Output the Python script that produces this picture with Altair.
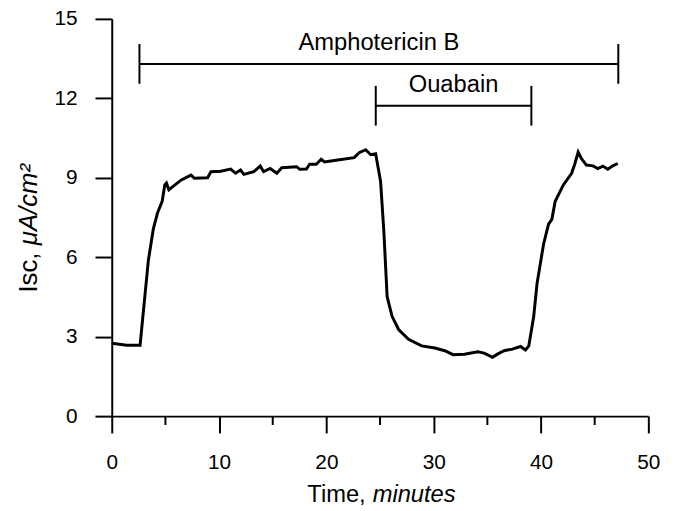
import altair as alt
import pandas as pd

# Trace
time_min = [0.0, 1.4, 2.64, 3.41, 3.87, 4.27, 4.70, 4.94, 5.10, 5.32, 6.48, 7.39, 7.70, 8.93,
            9.24, 10.16, 11.08, 11.54, 12.0, 12.31, 13.23, 13.84, 14.15, 14.76, 15.38, 15.84,
            17.22, 17.52, 18.14, 18.44, 19.06, 19.52, 19.82, 20.9, 22.59, 23.05, 23.66, 24.13,
            24.59, 25.05, 25.35, 25.66, 26.12, 26.73, 27.65, 28.88, 30.11, 31.03, 31.8, 32.87,
            34.1, 34.7, 35.48, 35.94, 36.56, 37.32, 38.09, 38.55, 38.86, 39.32, 39.63, 40.24,
            40.7, 41.01, 41.32, 42.08, 42.85, 43.16, 43.46, 43.77, 44.23, 44.84, 45.3, 45.76,
            46.22, 46.69, 47.15]
isc = [2.75, 2.68, 2.68, 5.88, 7.06, 7.68, 8.11, 8.73, 8.8, 8.55, 8.92, 9.1, 8.98, 9.0,
       9.23, 9.25, 9.33, 9.17, 9.29, 9.13, 9.23, 9.44, 9.23, 9.35, 9.17, 9.38,
       9.42, 9.32, 9.33, 9.51, 9.51, 9.70, 9.6, 9.66, 9.76, 9.95, 10.06, 9.87,
       9.91, 8.86, 7.0, 4.51, 3.77, 3.27, 2.90, 2.65, 2.57, 2.47, 2.32, 2.34,
       2.43, 2.38, 2.22, 2.34, 2.47, 2.53, 2.63, 2.5, 2.65, 3.77, 5.01, 6.5,
       7.25, 7.43, 8.11, 8.73, 9.17, 9.54, 9.97, 9.72, 9.48, 9.45, 9.35, 9.44,
       9.32, 9.45, 9.54]

# Treatment brackets
bracket_labels = ["Amphotericin B", "Ouabain"]
bracket_start = [2.58, 24.6]
bracket_end = [47.2, 39.1]
bracket_level = [13.3, 11.72]
cap_half = 0.75

x_major = [0, 10, 20, 30, 40, 50]
x_minor = [5, 15, 25, 35, 45]
y_ticks = [0, 3, 6, 9, 12, 15]

FONT = "Liberation Sans"
W, H = 543, 402

trace = pd.DataFrame({"time": time_min, "isc": isc})
br = pd.DataFrame({"label": bracket_labels, "start": bracket_start,
                   "end": bracket_end, "level": bracket_level})
br["lo"] = br["level"] - cap_half
br["hi"] = br["level"] + cap_half
br["mid"] = (br["start"] + br["end"]) / 2
minor = pd.DataFrame({"t": x_minor})

xs = alt.Scale(domain=[0, 50], nice=False, zero=False)
ys = alt.Scale(domain=[0, 15], nice=False, zero=False)

x_axis = alt.Axis(values=x_major, tickSize=17, labelPadding=19, labelFlush=False,
                  title=None, grid=False)
y_axis = alt.Axis(values=y_ticks, tickSize=17, labelPadding=18, labelFlush=False,
                  title=None, grid=False)

line = alt.Chart(trace).mark_line(color="black", strokeWidth=3, interpolate="linear").encode(
    x=alt.X("time:Q", scale=xs, axis=x_axis),
    y=alt.Y("isc:Q", scale=ys, axis=y_axis),
)

minor_ticks = alt.Chart(minor).mark_rule(color="black", strokeWidth=2).encode(
    x=alt.X("t:Q", scale=xs), y=alt.value(H), y2=alt.value(H + 9))

hbar = alt.Chart(br).mark_rule(color="black", strokeWidth=2).encode(
    x=alt.X("start:Q", scale=xs), x2="end:Q", y=alt.Y("level:Q", scale=ys))
cap_l = alt.Chart(br).mark_rule(color="black", strokeWidth=2).encode(
    x=alt.X("start:Q", scale=xs), y=alt.Y("lo:Q", scale=ys), y2="hi:Q")
cap_r = alt.Chart(br).mark_rule(color="black", strokeWidth=2).encode(
    x=alt.X("end:Q", scale=xs), y=alt.Y("lo:Q", scale=ys), y2="hi:Q")
blabel = alt.Chart(br).mark_text(font=FONT, fontSize=24, color="black", baseline="alphabetic",
                                 align="center", dy=-14).encode(
    x=alt.X("mid:Q", scale=xs), y=alt.Y("level:Q", scale=ys), text="label:N")

# Axis titles with mixed italic
xt = pd.DataFrame({"a": ["Time,"], "b": ["minutes"]})
xt1 = alt.Chart(xt).mark_text(font=FONT, fontSize=24, color="black", align="right",
                              baseline="alphabetic").encode(
    x=alt.value(257), y=alt.value(489), text="a:N")
xt2 = alt.Chart(xt).mark_text(font=FONT, fontSize=24, color="black", align="left",
                              baseline="alphabetic", fontStyle="italic").encode(
    x=alt.value(264), y=alt.value(489), text="b:N")

yt = pd.DataFrame({"a": ["Isc,"], "b": ["\u03bcA/cm\u00b2"]})
yt1 = alt.Chart(yt).mark_text(font=FONT, fontSize=26, color="black", align="left",
                              baseline="alphabetic", angle=270).encode(
    x=alt.value(-76), y=alt.value(277), text="a:N")
yt2 = alt.Chart(yt).mark_text(font=FONT, fontSize=26, color="black", align="left",
                              baseline="alphabetic", angle=270, fontStyle="italic").encode(
    x=alt.value(-76), y=alt.value(229), text="b:N")

chart = alt.layer(line, minor_ticks, hbar, cap_l, cap_r, blabel, xt1, xt2, yt1, yt2).properties(
    width=W, height=H,
    autosize=alt.AutoSizeParams(type="none"),
    padding={"left": 105, "top": 8, "right": 29, "bottom": 93},
).configure_view(stroke=None).configure_axis(
    domainColor="black", domainWidth=2, tickColor="black", tickWidth=2,
    labelFont=FONT, labelFontSize=21, labelColor="black",
)

chart.save("out.html", embed_options={"renderer": "svg", "actions": False})
